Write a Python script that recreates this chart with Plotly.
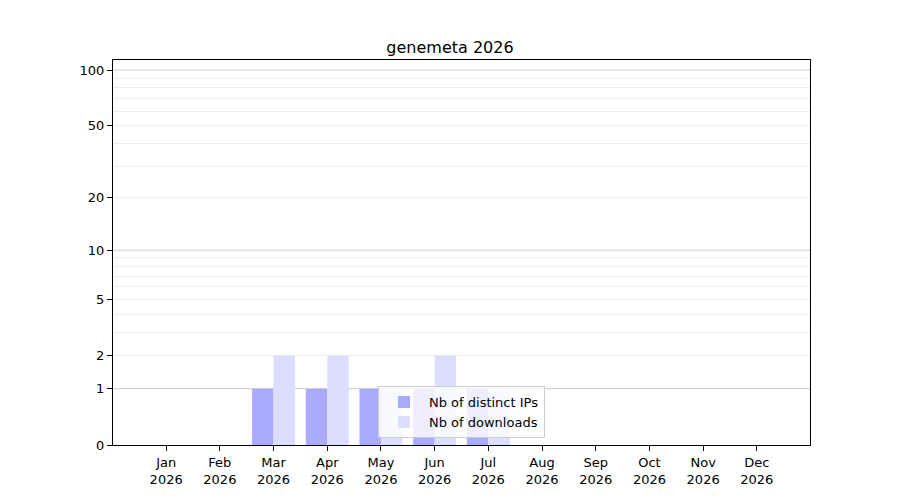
import plotly.graph_objects as go

YEAR = "2026"
MONTHS = ["Jan", "Feb", "Mar", "Apr", "May", "Jun",
          "Jul", "Aug", "Sep", "Oct", "Nov", "Dec"]
DISTINCT_IPS = [0, 0, 1, 1, 1, 1, 1, 0, 0, 0, 0, 0]
DOWNLOADS = [0, 0, 2, 2, 1, 2, 1, 0, 0, 0, 0, 0]

Y_TICKS = [0, 1, 2, 5, 10, 20, 50, 100]
Y_MAJOR_GRID = [1, 10, 100]
Y_MINOR_GRID = [2, 3, 4, 5, 6, 7, 8, 9, 20, 30, 40, 50, 60, 70, 80, 90]

FONT = "DejaVu Sans"

# the y scale is log10(1 + n): plot on a log axis with every bar based at 1
labels = [f"{m}<br>{YEAR}" for m in MONTHS]
shift = lambda vals: [v + 1 for v in vals]

fig = go.Figure()
fig.add_trace(go.Bar(
    x=labels, y=DISTINCT_IPS, base=1, name="Nb of distinct IPs",
    marker=dict(color="#aaaaff", line=dict(width=0)),
))
fig.add_trace(go.Bar(
    x=labels, y=DOWNLOADS, base=1, name="Nb of downloads",
    marker=dict(color="#ddddff", line=dict(width=0)),
))

# darker grid lines at the decades, under the bars
for v in shift(Y_MAJOR_GRID):
    fig.add_shape(type="line", xref="paper", x0=0, x1=1, yref="y", y0=v, y1=v,
                  line=dict(color="#cbcbcb", width=1), layer="below")

# the page body adds an 8px margin, so the figure is a bit smaller than 900x500
fig.update_layout(
    width=884, height=484,
    paper_bgcolor="white", plot_bgcolor="white",
    margin=dict(l=105, r=82, t=52, b=47),
    font=dict(family=FONT, size=13, color="black"),
    title=dict(text="genemeta 2026", x=0.5, xanchor="center",
               y=1, yref="paper", yanchor="bottom", pad=dict(b=7),
               font=dict(family=FONT, size=16, color="black")),
    barmode="group", bargap=0.2, bargroupgap=0,
    showlegend=True,
    legend=dict(x=0.5, xanchor="center", y=0.018, yanchor="bottom",
                bgcolor="rgba(255,255,255,0.8)", bordercolor="#cccccc",
                borderwidth=1, font=dict(family=FONT, size=13),
                itemwidth=40, traceorder="normal"),
    xaxis=dict(type="category", range=[-0.99, 11.99], automargin=False,
               showline=True, linecolor="black", linewidth=1, mirror=True,
               ticks="outside", ticklen=5, tickcolor="black", showgrid=False),
    yaxis=dict(type="log", range=[0, 2.058], automargin=False,
               tickmode="array", tickvals=shift(Y_TICKS),
               ticktext=[str(v) for v in Y_TICKS],
               showline=True, linecolor="black", linewidth=1, mirror=True,
               ticks="outside", ticklen=5, tickcolor="black",
               showgrid=False, zeroline=False,
               minor=dict(tickmode="array", tickvals=shift(Y_MINOR_GRID),
                          showgrid=True, gridcolor="#ececec", gridwidth=1,
                          ticks="")),
)

fig.write_html("out.html")
